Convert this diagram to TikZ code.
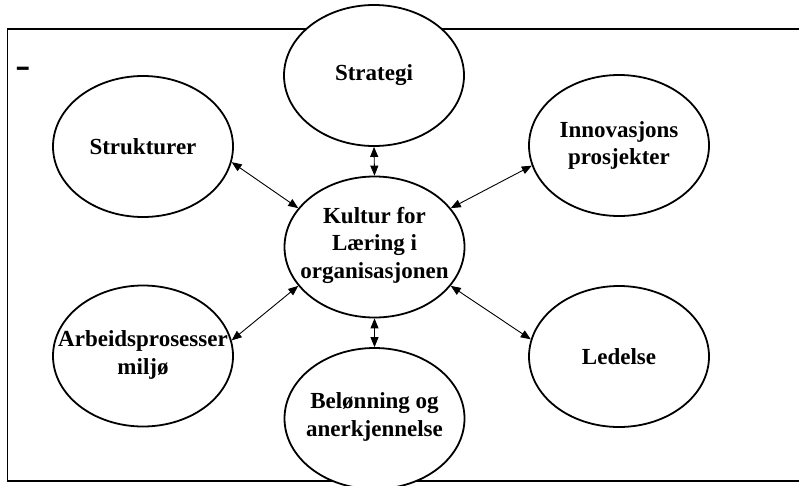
\documentclass[tikz,border=0pt]{standalone}
\usepackage{fontspec}
\setmainfont{Liberation Serif}
\usetikzlibrary{shapes.geometric,arrows.meta}

\tikzset{
  blob/.style={ellipse, draw, fill=white, line width=1.8pt,
    minimum width=180pt, minimum height=141pt, inner sep=0pt},
  blobtext/.style={align=center, inner sep=0pt,
    font=\fontsize{23}{27.5}\selectfont\bfseries},
  biarrow/.style={{Triangle[length=10pt,width=8pt]}-{Triangle[length=10pt,width=8pt]},
    line width=0.9pt},
  framebox/.style={draw, line width=1.4pt}
}

\begin{document}
\begin{tikzpicture}[x=1pt,y=-1pt]
  \useasboundingbox (0,0) rectangle (799,485);
  \clip (0,0) rectangle (799,485);

  % outer frame (open on the right side of the page)
  \draw[framebox] (830,29) -- (7.5,29) -- (7.5,481) -- (830,481);

  % stray dash in the upper left corner
  \node[anchor=base west, inner sep=0pt,
        font=\fontsize{23}{27.5}\selectfont\bfseries] (dash) at (17.5,79)
        {\scalebox{1}[2.0]{–}};

  % ellipses
  \node[blob] (strat)  at (374,75.5)   {};
  \node[blob] (struk)  at (143,146.5)  {};
  \node[blob] (innov)  at (619,145.5)  {};
  \node[blob] (kultur) at (374.5,247)  {};
  \node[blob] (arbeid) at (143,356)    {};
  \node[blob] (ledel)  at (619,356.5)  {};
  \node[blob] (belon)  at (374.5,418.5) {};

  % labels
  \node[blobtext] (tstrat)  at (strat)  {Strategi};
  \node[blobtext] (tstruk)  at (struk)  {Strukturer};
  \node[blobtext] (tinnov)  at (innov)  {Innovasjons\\prosjekter};
  \node[blobtext] (tkultur) at ([yshift=2pt]kultur) {Kultur for\\Læring i\\organisasjonen};
  \node[blobtext] (tarbeid) at ([yshift=1pt]arbeid) {Arbeidsprosesser\\miljø};
  \node[blobtext] (tledel)  at (ledel)  {Ledelse};
  \node[blobtext] (tbelon)  at ([yshift=1.5pt]belon) {Belønning og\\anerkjennelse};

  % two-way links to the centre
  \draw[biarrow] (strat.south) -- (kultur.north);
  \draw[biarrow] (kultur.south) -- (belon.north);
  \draw[biarrow] (struk.-10) -- (kultur.153);
  \draw[biarrow] (innov.-167) -- (kultur.27.5);
  \draw[biarrow] (arbeid.10.5) -- (kultur.-153);
  \draw[biarrow] (ledel.169.5) -- (kultur.-27);
\end{tikzpicture}
\end{document}
